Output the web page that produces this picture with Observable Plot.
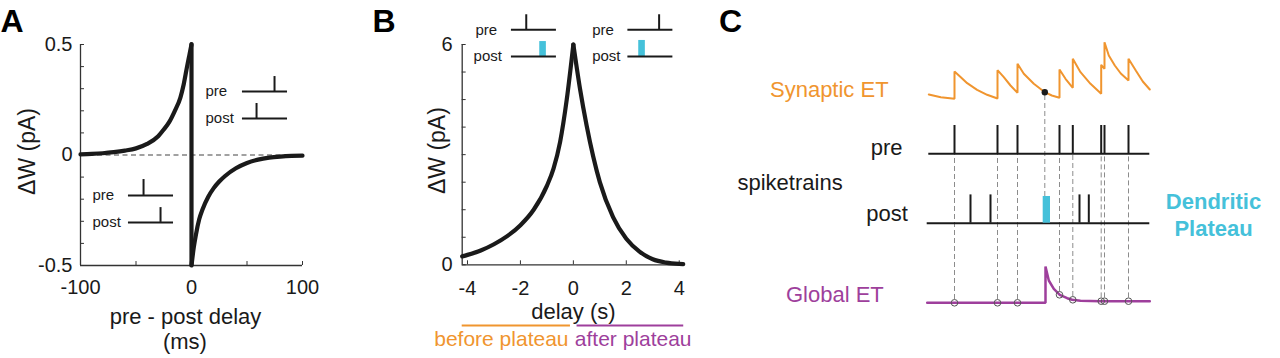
<!DOCTYPE html>
<html><head><meta charset="utf-8">
<script src="https://cdn.jsdelivr.net/npm/d3@7"></script>
<script src="https://cdn.jsdelivr.net/npm/@observablehq/plot@0.6"></script>
<style>
html,body{margin:0;padding:0;background:#fff;}
#fig{position:relative;width:1280px;height:358px;overflow:hidden;background:#fff;}
#fig svg{position:absolute;left:0;top:0;}
</style></head><body><div id="fig"></div>
<script>
// ---------- DATA ----------
// Panel A: STDP kernel (pre - post delay in ms, ΔW in pA)
const stdpDelayNeg = [-100,-90,-80,-70,-60,-50,-40,-30,-25,-20,-15,-10,-7,-4,-2,0];
const stdpDWNeg    = [0.003,0.005,0.008,0.013,0.02,0.03,0.05,0.085,0.115,0.15,0.2,0.26,0.32,0.4,0.45,0.5];
const stdpDelayPos = [0,2,4,7,10,15,20,25,30,40,50,60,70,80,90,100];
const stdpDWPos    = [-0.5,-0.42,-0.36,-0.29,-0.245,-0.19,-0.15,-0.12,-0.096,-0.06,-0.036,-0.021,-0.012,-0.007,-0.004,-0.003];
const aXTicks = [-100,-50,0,50,100];
const aXLabels = [-100,0,100];
const aYTicks = [-0.5,-0.4,-0.3,-0.2,-0.1,0,0.1,0.2,0.3,0.4,0.5];
const aYLabels = [-0.5,0,0.5];

// Panel B: BTSP kernel (delay in s, ΔW in pA)
const btspDelayBefore = [-4.2,-4,-3.5,-3,-2.5,-2,-1.5,-1,-0.75,-0.5,-0.25,0];
const btspDWBefore    = [0.23,0.27,0.39,0.56,0.78,1.08,1.5,2.15,2.62,3.35,4.5,6];
const btspDelayAfter  = [0,0.25,0.5,0.75,1,1.5,2,2.5,3,3.5,4,4.15];
const btspDWAfter     = [6,4.8,3.8,2.95,2.25,1.3,0.71,0.36,0.15,0.06,0.025,0.02];
const bXTicks = [-4,-2,0,2,4];
const bYTicks = [0,0.75,1.5,2.25,3,3.75,4.5,5.25,6];
const bYLabels = [0,6];

// Panel C: spike trains and eligibility traces (time in a.u.)
const preSpikes  = [25.7,68.7,88.7,130.7,144,172.4,175.7,199.7];
const postSpikes = [41.7,61.7,150.7,160];
const plateauStart = 114.4, plateauEnd = 121.7;
const preGlobal  = [0,0,0,0.8,0.3,0.16,0.16,0.16]; // global ET read at each pre spike
const synT = [0,12,25.7,25.7,32,38.4,48.3,58.3,68.7,68.7,75,81.7,88.7,88.7,95,105,116,123,130.7,130.7,136.7,144,144,151.7,161.7,172.4,172.4,175.7,175.7,180,186,192,199.7,199.7,207,214,221];
const synV = [0.7,0.43,0.27,3.0,2.43,1.83,1.17,0.67,0.3,3.13,2.43,1.6,0.87,3.77,2.77,1.77,0.93,0.6,0.37,3.2,2.27,1.37,4.27,2.93,1.77,0.77,3.67,3.27,5.93,4.6,3.6,2.8,2.1,4.27,3.1,2.0,1.2];
const globT = [-1.6,116.7,116.7,120,125,131,138.4,143.4,151.7,171.7,221];
const globV = [0,0,3.63,2.23,1.4,0.8,0.46,0.3,0.2,0.16,0.16];
const readT = 116, readV = 0.93; // synaptic ET read-out at plateau onset

// ---------- STYLE ----------
const FONT = "'Liberation Sans', Arial, Helvetica, sans-serif";
const INK = "#1a1a1a", AXIS = "#333";
const ORANGE = "#f0952f", PURPLE = "#9e3f9c", CYAN = "#45c1da", DASH = "#8c8c8c";
const fig = document.getElementById("fig");
const baseStyle = {fontFamily: FONT, background: "transparent", color: INK};
function place(svg){ svg.style.position = "absolute"; svg.style.left = "0px"; svg.style.top = "0px"; fig.appendChild(svg); }
const TICKFS = 20;

// ---------- PANEL A ----------
const aNeg = stdpDelayNeg.map((d,i) => ({d, w: stdpDWNeg[i]}));
const aPos = stdpDelayPos.map((d,i) => ({d, w: stdpDWPos[i]}));
place(Plot.plot({
  width: 1280, height: 358,
  marginLeft: 80, marginRight: 978, marginTop: 44, marginBottom: 93,
  x: {domain: [-100,100], axis: null},
  y: {domain: [-0.5,0.5], axis: null},
  style: baseStyle,
  marks: [
    Plot.ruleY([0], {x1: -100, x2: 100, stroke: "#444", strokeWidth: 1.2, strokeDasharray: "5,3.5"}),
    Plot.ruleX([-100], {y1: -0.5, y2: 0.5, stroke: AXIS, strokeWidth: 1.3}),
    Plot.ruleY([-0.5], {x1: -100, x2: 100, stroke: AXIS, strokeWidth: 1.3}),
    Plot.ruleY(aYTicks, {y: d => d, x1: -100, x2: -96.4, stroke: AXIS, strokeWidth: 1}),
    Plot.ruleX(aXTicks, {x: d => d, y1: -0.5, y2: -0.482, stroke: AXIS, strokeWidth: 1}),
    Plot.line(aNeg, {x: "d", y: "w", curve: "monotone-x", stroke: INK, strokeWidth: 4.2, strokeLinecap: "round"}),
    Plot.ruleX([0], {y1: -0.5, y2: 0.5, stroke: INK, strokeWidth: 4.2, strokeLinecap: "round"}),
    Plot.line(aPos, {x: "d", y: "w", curve: "monotone-x", stroke: INK, strokeWidth: 4.2, strokeLinecap: "round"}),
    Plot.text(aYLabels, {x: -100, y: d => d, text: d => String(d), textAnchor: "end", dx: -8, fontSize: TICKFS, fill: INK}),
    Plot.text(aXLabels, {x: d => d, y: -0.5, text: d => String(d), lineAnchor: "top", dy: 14, fontSize: TICKFS, fill: INK}),
    Plot.text(["ΔW (pA)"], {x: -147.7, y: 0.016, rotate: -90, fontSize: 23, fill: INK}),
    Plot.text(["pre - post delay"], {x: -5.4, y: -0.731, fontSize: 22, fill: INK}),
    Plot.text(["(ms)"], {x: -5.9, y: -0.846, fontSize: 22, fill: INK}),
    Plot.text(["A"], {x: -172, y: 0.602, textAnchor: "start", fontSize: 32, fontWeight: "bold", fill: "#000"}),
    // inset: pre after post (upper)
    Plot.text(["pre"], {x: 12.6, y: 0.287, textAnchor: "start", fontSize: 15, fill: INK}),
    Plot.text(["post"], {x: 12.6, y: 0.165, textAnchor: "start", fontSize: 15, fill: INK}),
    Plot.ruleY([0.287, 0.165], {y: d => d, x1: 45.9, x2: 86.5, stroke: INK, strokeWidth: 2}),
    Plot.ruleX([74.8], {x: d => d, y1: 0.287, y2: 0.355, stroke: INK, strokeWidth: 2}),
    Plot.ruleX([58.6], {x: d => d, y1: 0.165, y2: 0.233, stroke: INK, strokeWidth: 2}),
    // inset: pre before post (lower)
    Plot.text(["pre"], {x: -89.2, y: -0.183, textAnchor: "start", fontSize: 15, fill: INK}),
    Plot.text(["post"], {x: -89.2, y: -0.305, textAnchor: "start", fontSize: 15, fill: INK}),
    Plot.ruleY([-0.183, -0.305], {y: d => d, x1: -56.8, x2: -16.2, stroke: INK, strokeWidth: 2}),
    Plot.ruleX([-43.2], {x: d => d, y1: -0.183, y2: -0.111, stroke: INK, strokeWidth: 2}),
    Plot.ruleX([-27.9], {x: d => d, y1: -0.305, y2: -0.238, stroke: INK, strokeWidth: 2})
  ]
}));

// ---------- PANEL B ----------
const bBefore = btspDelayBefore.map((d,i) => ({d, w: btspDWBefore[i]}));
const bAfter  = btspDelayAfter.map((d,i) => ({d, w: btspDWAfter[i]}));
place(Plot.plot({
  width: 1280, height: 358,
  marginLeft: 461.7, marginRight: 597.3, marginTop: 44, marginBottom: 93.7,
  x: {domain: [-4.2,4.15], axis: null},
  y: {domain: [0,6], axis: null},
  style: baseStyle,
  marks: [
    Plot.ruleX([-4.2], {y1: 0, y2: 6, stroke: AXIS, strokeWidth: 1.3}),
    Plot.ruleY([0], {x1: -4.2, x2: 4.15, stroke: AXIS, strokeWidth: 1.3}),
    Plot.ruleY(bYTicks, {y: d => d, x1: -4.2, x2: -4.05, stroke: AXIS, strokeWidth: 1}),
    Plot.ruleX(bXTicks, {x: d => d, y1: 0, y2: 0.109, stroke: AXIS, strokeWidth: 1}),
    Plot.line(bBefore, {x: "d", y: "w", curve: "monotone-x", stroke: INK, strokeWidth: 4.2, strokeLinecap: "round"}),
    Plot.line(bAfter, {x: "d", y: "w", curve: "monotone-x", stroke: INK, strokeWidth: 4.2, strokeLinecap: "round"}),
    Plot.text(bYLabels, {x: -4.2, y: d => d, text: d => String(d), textAnchor: "end", dx: -9.7, fontSize: TICKFS, fill: INK}),
    Plot.text(bXTicks, {x: d => d, y: 0, text: d => String(d), lineAnchor: "top", dy: 16, fontSize: TICKFS, fill: INK}),
    Plot.text(["ΔW (pA)"], {x: -5.12, y: 3.11, rotate: -90, fontSize: 23, fill: INK}),
    Plot.text(["delay (s)"], {x: 0, y: -1.29, fontSize: 22, fill: INK}),
    Plot.ruleY([-1.653], {x1: -4.2, x2: -0.11, stroke: ORANGE, strokeWidth: 2}),
    Plot.ruleY([-1.653], {x1: 0.14, x2: 4.17, stroke: PURPLE, strokeWidth: 2}),
    Plot.text(["before plateau"], {x: -2.72, y: -2.04, fontSize: 21, fill: ORANGE}),
    Plot.text(["after plateau"], {x: 2.26, y: -2.04, fontSize: 21, fill: PURPLE}),
    Plot.text(["B"], {x: -7.59, y: 6.61, textAnchor: "start", fontSize: 32, fontWeight: "bold", fill: "#000"}),
    // inset 1: pre before plateau
    Plot.text(["pre"], {x: -3.70, y: 6.40, textAnchor: "start", fontSize: 15, fill: INK}),
    Plot.text(["post"], {x: -3.77, y: 5.67, textAnchor: "start", fontSize: 15, fill: INK}),
    Plot.rect([0], {x1: -1.27, x2: -1.02, y1: 5.67, y2: 6.08, fill: CYAN}),
    Plot.ruleY([6.40, 5.67], {y: d => d, x1: -2.34, x2: -0.64, stroke: INK, strokeWidth: 2}),
    Plot.ruleX([-1.78], {x: d => d, y1: 6.40, y2: 6.81, stroke: INK, strokeWidth: 2}),
    // inset 2: pre after plateau
    Plot.text(["pre"], {x: 0.71, y: 6.40, textAnchor: "start", fontSize: 15, fill: INK}),
    Plot.text(["post"], {x: 0.71, y: 5.67, textAnchor: "start", fontSize: 15, fill: INK}),
    Plot.rect([0], {x1: 2.47, x2: 2.72, y1: 5.67, y2: 6.11, fill: CYAN}),
    Plot.ruleY([6.40, 5.67], {y: d => d, x1: 2.06, x2: 3.76, stroke: INK, strokeWidth: 2}),
    Plot.ruleX([3.24], {x: d => d, y1: 6.40, y2: 6.81, stroke: INK, strokeWidth: 2})
  ]
}));

// ---------- PANEL C ----------
const rowBase = {syn: 25.7, pre: 20.47, post: 13.53, glob: 5.57};
const spikeH = 2.83, plateauH = 2.67, circR = 0.33;
const synData = synT.map((t,i) => ({t, y: rowBase.syn + synV[i]}));
const globData = globT.map((t,i) => ({t, y: rowBase.glob + globV[i]}));
place(Plot.plot({
  width: 1280, height: 358,
  marginLeft: 928.3, marginRight: 130.7, marginTop: 0, marginBottom: 0,
  x: {domain: [0,221], axis: null},
  y: {domain: [0,35.8], axis: null},
  style: baseStyle,
  marks: [
    Plot.ruleX(preSpikes, {x: d => d, y1: (d,i) => rowBase.glob + preGlobal[i] + circR, y2: rowBase.pre, stroke: DASH, strokeWidth: 1, strokeDasharray: "5,3"}),
    Plot.ruleX([readT], {x: d => d, y1: rowBase.post + plateauH, y2: rowBase.syn + readV, stroke: DASH, strokeWidth: 1, strokeDasharray: "5,3"}),
    Plot.ruleY([rowBase.pre], {x1: 0, x2: 221, stroke: INK, strokeWidth: 2}),
    Plot.ruleY([rowBase.post], {x1: -1.6, x2: 221, stroke: INK, strokeWidth: 2}),
    Plot.ruleX(preSpikes, {x: d => d, y1: rowBase.pre, y2: rowBase.pre + spikeH, stroke: INK, strokeWidth: 2}),
    Plot.ruleX(postSpikes, {x: d => d, y1: rowBase.post, y2: rowBase.post + spikeH, stroke: INK, strokeWidth: 2}),
    Plot.rect([0], {x1: plateauStart, x2: plateauEnd, y1: rowBase.post, y2: rowBase.post + plateauH, fill: CYAN}),
    Plot.line(synData, {x: "t", y: "y", stroke: ORANGE, strokeWidth: 2, strokeLinejoin: "miter"}),
    Plot.line(globData, {x: "t", y: "y", stroke: PURPLE, strokeWidth: 2.5, strokeLinejoin: "miter"}),
    Plot.dot(preSpikes, {x: d => d, y: (d,i) => rowBase.glob + preGlobal[i], r: 3.3, stroke: "#555", fill: "none", strokeWidth: 1}),
    Plot.dot([0], {x: readT, y: rowBase.syn + readV, r: 3.2, fill: INK, stroke: "none"}),
    Plot.text(["C"], {x: -209.8, y: 33.65, textAnchor: "start", fontSize: 32, fontWeight: "bold", fill: "#000"}),
    Plot.text(["Synaptic ET"], {x: -40.2, y: 26.9, textAnchor: "end", fontSize: 22, fill: ORANGE}),
    Plot.text(["pre"], {x: -26.3, y: 21.1, textAnchor: "end", fontSize: 22, fill: INK}),
    Plot.text(["spiketrains"], {x: -191.3, y: 17.6, textAnchor: "start", fontSize: 22, fill: INK}),
    Plot.text(["post"], {x: -20.9, y: 14.5, textAnchor: "end", fontSize: 22, fill: INK}),
    Plot.text(["Dendritic"], {x: 284.7, y: 15.67, fontSize: 22, fontWeight: "bold", fill: CYAN}),
    Plot.text(["Plateau"], {x: 284.7, y: 13.0, fontSize: 22, fontWeight: "bold", fill: CYAN}),
    Plot.text(["Global ET"], {x: -45, y: 6.33, textAnchor: "end", fontSize: 22, fill: PURPLE})
  ]
}));
</script></body></html>
